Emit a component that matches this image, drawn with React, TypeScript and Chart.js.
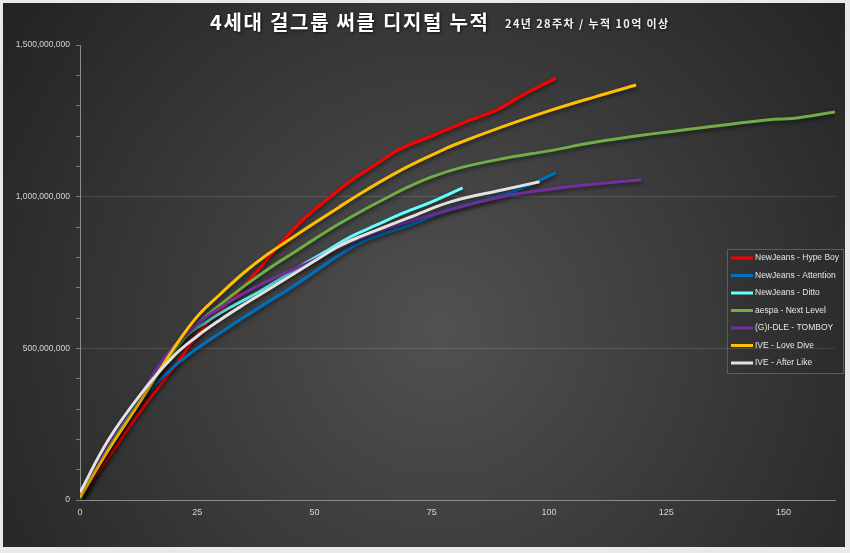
import { useEffect, useRef } from 'react';
import { Chart, registerables } from 'chart.js';

Chart.register(...registerables);

// ---- data (values in millions of cumulative streams, x = weeks since release) ----
const TITLE = '4세대 걸그룹 써클 디지털 누적';
const SUBTITLE = '24년 28주차 / 누적 10억 이상';

const SERIES_NAMES = [
  'NewJeans - Hype Boy',
  'NewJeans - Attention',
  'NewJeans - Ditto',
  'aespa - Next Level',
  '(G)I-DLE - TOMBOY',
  'IVE - Love Dive',
  'IVE - After Like',
];
const SERIES_COLORS = ['#ff0000', '#0070c0', '#66ffff', '#70ad47', '#7030a0', '#ffc000', '#e2e2e2'];

const WEEKS_HYPE_BOY = [0, 6, 13, 20, 27, 32, 38, 43, 48, 53, 58, 63, 68, 75, 82, 89, 95, 101.5];
const HYPE_BOY = [3, 140, 296, 438, 582, 655, 758, 850, 930, 995, 1055, 1105, 1155, 1200, 1245, 1287, 1340, 1391];

const WEEKS_ATTENTION = [0, 5, 10, 15, 20, 25, 30, 35, 40, 45, 50, 55, 60, 65, 70, 79, 90, 96, 101.5];
const ATTENTION = [5, 145, 270, 365, 440, 500, 552, 603, 652, 700, 752, 805, 850, 880, 905, 958, 1005, 1040, 1079];

const WEEKS_DITTO = [0, 6, 13, 22, 27, 32, 38, 43, 48, 53, 58, 63, 68, 75, 81.6];
const DITTO = [10, 175, 340, 530, 588, 635, 685, 732, 780, 825, 870, 905, 940, 983, 1029];

const WEEKS_NEXT_LEVEL = [0, 6, 13, 20, 25, 30, 35, 40, 45, 50, 55, 60, 65, 70, 75, 81, 90, 100, 110, 122, 135, 148, 152, 161];
const NEXT_LEVEL = [5, 165, 330, 490, 580, 645, 705, 760, 810, 860, 908, 952, 993, 1032, 1065, 1095, 1125, 1151, 1180, 1207, 1232, 1255, 1258, 1279];

const WEEKS_TOMBOY = [0, 6, 13, 19, 25, 30, 35, 40, 45, 50, 55, 60, 65, 70, 80, 90, 100, 110, 119.7];
const TOMBOY = [15, 188, 350, 490, 580, 635, 682, 722, 757, 792, 830, 865, 893, 918, 962, 1000, 1024, 1042, 1056];

const WEEKS_LOVE_DIVE = [0, 6, 13, 20, 25, 30, 35, 40, 45, 50, 55, 60, 65, 70, 76.5, 80, 90, 100, 110, 118.6];
const LOVE_DIVE = [10, 164, 329, 500, 605, 680, 750, 810, 862, 913, 963, 1012, 1058, 1100, 1148, 1172, 1230, 1283, 1330, 1368];

const WEEKS_AFTER_LIKE = [0, 6, 13, 20, 25, 30, 35, 40, 45, 50, 55, 60, 65, 70, 79, 90, 98];
const AFTER_LIKE = [25, 197, 350, 475, 540, 595, 645, 692, 740, 788, 835, 870, 900, 930, 983, 1022, 1049];

const X_TICK_STEP = 25;
const X_MAX = 161;
const Y_MAX = 1500000000;
const Y_MINOR_STEP = 100000000;
const Y_MAJOR_STEP = 500000000;
const MIL = 1000000;

const SERIES_WEEKS = [WEEKS_HYPE_BOY, WEEKS_ATTENTION, WEEKS_DITTO, WEEKS_NEXT_LEVEL, WEEKS_TOMBOY, WEEKS_LOVE_DIVE, WEEKS_AFTER_LIKE];
const SERIES_VALUES = [HYPE_BOY, ATTENTION, DITTO, NEXT_LEVEL, TOMBOY, LOVE_DIVE, AFTER_LIKE];

const W = 850;
const H = 553;

const backgroundPlugin = {
  id: 'bg',
  beforeDraw(chart: any) {
    const ctx = chart.ctx as CanvasRenderingContext2D;
    ctx.save();
    ctx.fillStyle = '#e9e9e9';
    ctx.fillRect(0, 0, W, H);
    const g = ctx.createRadialGradient(440, 330, 0, 440, 330, 560);
    g.addColorStop(0, '#515151');
    g.addColorStop(1, '#212121');
    ctx.fillStyle = g;
    ctx.fillRect(3, 3, 842, 544);
    ctx.restore();
  },
};

const shadowPlugin = {
  id: 'lineShadow',
  beforeDatasetsDraw(chart: any) {
    const ctx = chart.ctx as CanvasRenderingContext2D;
    ctx.save();
    ctx.shadowColor = 'rgba(0,0,0,0.55)';
    ctx.shadowBlur = 4;
    ctx.shadowOffsetX = 1;
    ctx.shadowOffsetY = 2;
  },
  afterDatasetsDraw(chart: any) {
    chart.ctx.restore();
  },
};

const titlePlugin = {
  id: 'titleText',
  afterDraw(chart: any) {
    const ctx = chart.ctx as CanvasRenderingContext2D;
    ctx.save();
    ctx.shadowColor = 'rgba(0,0,0,0.7)';
    ctx.shadowBlur = 3;
    ctx.shadowOffsetX = 1;
    ctx.shadowOffsetY = 1;
    ctx.fillStyle = '#ffffff';
    ctx.textBaseline = 'middle';
    ctx.textAlign = 'left';
    (ctx as any).letterSpacing = '1.7px';
    ctx.font = 'bold 20px "Noto Sans CJK KR"';
    ctx.fillText(TITLE, 210, 22);
    (ctx as any).letterSpacing = '1.4px';
    ctx.font = 'bold 11px "Noto Sans CJK KR"';
    ctx.fillStyle = '#f2f2f2';
    ctx.fillText(SUBTITLE, 505, 24);
    ctx.restore();
  },
};

const legendPlugin = {
  id: 'boxLegend',
  afterDraw(chart: any) {
    const ctx = chart.ctx as CanvasRenderingContext2D;
    const bx = 727, by = 249, bw = 116, bh = 124;
    ctx.save();
    ctx.fillStyle = 'rgba(0,0,0,0.06)';
    ctx.fillRect(bx, by, bw, bh);
    ctx.strokeStyle = '#5e5e5e';
    ctx.lineWidth = 1;
    ctx.strokeRect(bx + 0.5, by + 0.5, bw, bh);
    ctx.font = '8.5px "Liberation Sans"';
    ctx.textBaseline = 'middle';
    ctx.textAlign = 'left';
    chart.data.datasets.forEach((ds: any, i: number) => {
      const y = by + 9 + i * 17.5;
      ctx.strokeStyle = ds.borderColor;
      ctx.lineWidth = 3;
      ctx.beginPath();
      ctx.moveTo(bx + 4, y);
      ctx.lineTo(bx + 26, y);
      ctx.stroke();
      ctx.fillStyle = '#e6e6e6';
      ctx.fillText(ds.label, bx + 28, y);
    });
    ctx.restore();
  },
};

export default function App() {
  const ref = useRef<HTMLCanvasElement>(null);
  useEffect(() => {
    const datasets = SERIES_NAMES.map((name, i) => ({
      label: name,
      data: SERIES_WEEKS[i].map((w, j) => ({ x: w, y: SERIES_VALUES[i][j] * MIL })),
      borderColor: SERIES_COLORS[i],
      backgroundColor: SERIES_COLORS[i],
      borderWidth: 3,
      pointRadius: 0,
      fill: false,
      tension: 0.4,
      order: SERIES_NAMES.length - i,
    }));
    const chart = new Chart(ref.current!, {
      type: 'line',
      data: { datasets },
      options: {
        animation: false,
        responsive: false,
        maintainAspectRatio: false,
        devicePixelRatio: 1,
        layout: { padding: { top: 45, right: 15, left: 0, bottom: 0 } },
        plugins: { legend: { display: false }, tooltip: { enabled: false }, title: { display: false } },
        scales: {
          x: {
            type: 'linear',
            min: 0,
            max: X_MAX,
            afterBuildTicks: (s: any) => {
              s.ticks = s.ticks.filter((t: any) => t.value % X_TICK_STEP === 0);
            },
            afterFit: (s: any) => {
              s.height = 53;
            },
            ticks: {
              stepSize: X_TICK_STEP,
              color: '#d4d4d4',
              font: { family: '"Liberation Sans"', size: 9 },
              padding: 7,
              maxRotation: 0,
            },
            grid: { display: false, drawTicks: false },
            border: { display: true, color: '#8c8c8c', width: 1 },
          },
          y: {
            type: 'linear',
            min: 0,
            max: Y_MAX,
            afterFit: (s: any) => {
              s.width = 80;
            },
            ticks: {
              stepSize: Y_MINOR_STEP,
              autoSkip: false,
              color: '#d4d4d4',
              font: { family: '"Liberation Sans"', size: 8.5 },
              padding: 6,
              callback: (v: any) => (Number(v) % Y_MAJOR_STEP === 0 ? Number(v).toLocaleString('en-US') : ''),
            },
            grid: {
              drawTicks: true,
              tickLength: 4,
              tickColor: '#7c7c7c',
              color: (c: any) => {
                const v = c.tick ? c.tick.value : -1;
                return v > 0 && v < Y_MAX && v % Y_MAJOR_STEP === 0 ? 'rgba(255,255,255,0.13)' : 'rgba(0,0,0,0)';
              },
            },
            border: { display: true, color: '#8c8c8c', width: 1 },
          },
        },
      },
      plugins: [backgroundPlugin, shadowPlugin, titlePlugin, legendPlugin],
    });
    return () => chart.destroy();
  }, []);
  return (
    <div style={{ position: 'absolute', left: 0, top: 0, width: W, height: H }}>
      <canvas ref={ref} width={W} height={H} style={{ display: 'block', width: W, height: H }} />
    </div>
  );
}
